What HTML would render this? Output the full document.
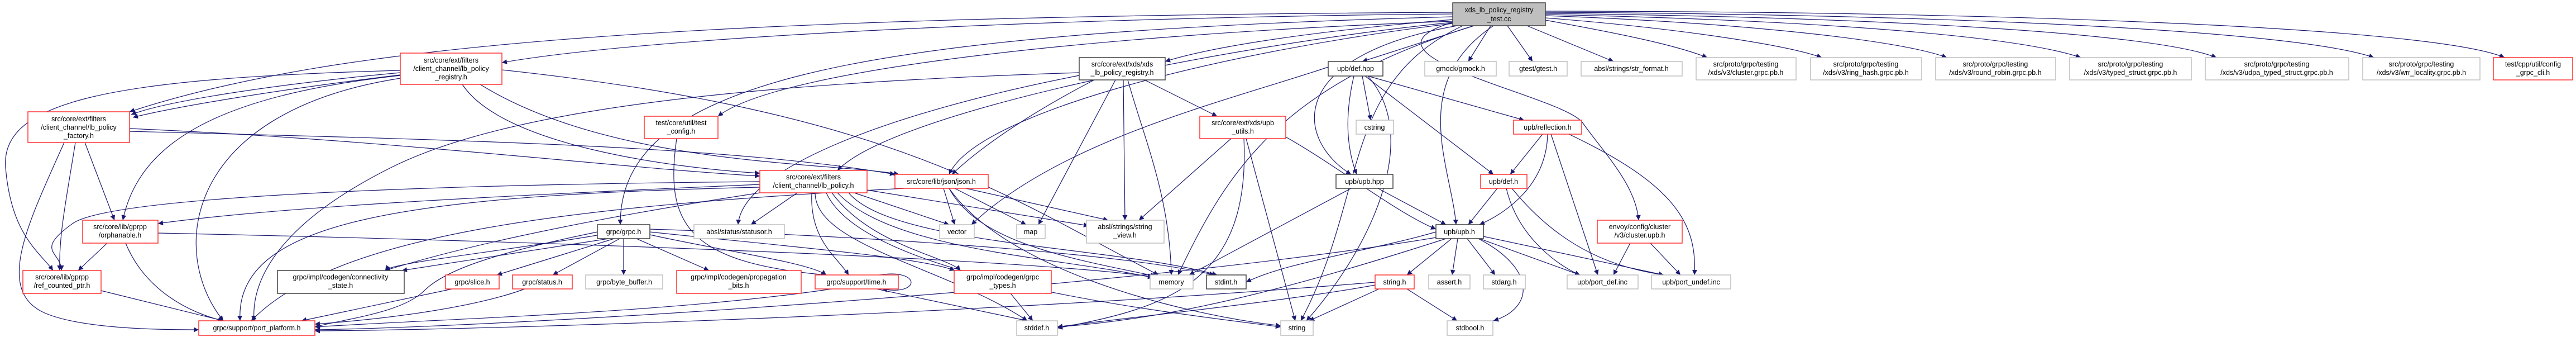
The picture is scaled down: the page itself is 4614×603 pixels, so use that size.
<!DOCTYPE html>
<html><head><meta charset="utf-8"><style>
html,body{margin:0;padding:0;background:#fff;}
svg{display:block;}
text{font-family:"Liberation Sans",sans-serif;font-size:12.5px;fill:#000;}
.e{fill:none;stroke:#191970;stroke-width:1.2;marker-end:url(#a);}
.r{fill:#fff;stroke:#ff3030;stroke-width:1.5;}
.g{fill:#fff;stroke:#bfbfbf;stroke-width:1.5;}
.k{fill:#fff;stroke:#404040;stroke-width:1.5;}
</style></head><body>
<svg width="4614" height="603" viewBox="0 0 4614 603" xmlns="http://www.w3.org/2000/svg">
<defs><marker id="a" viewBox="0 0 10 10" refX="10" refY="5" markerWidth="9" markerHeight="9" markerUnits="userSpaceOnUse" orient="auto"><path d="M0,0 L10,5 L0,10 z" fill="#191970"/></marker></defs>
<g>
<!-- main edges -->
<path class="e" d="M2602 25 C2000 30,1200 60,899 112"/>
<path class="e" d="M2602 22 C1200 30,600 80,232 200"/>
<path class="e" d="M2602 35 C2300 60,2150 90,2087 110"/>
<path class="e" d="M2602 38 C2000 60,1400 120,1286 208"/>
<path class="e" d="M2602 40 C2200 80,1600 200,1500 305"/>
<path class="e" d="M2602 42 C2200 90,1750 200,1700 312"/>
<path class="e" d="M2602 30 C1500 60,1110 150,1111 402"/>
<path class="e" d="M2640 46 C2300 150,2200 300,2110 492"/>
<path class="e" d="M2640 46 L2440 110"/>
<path class="e" d="M2610 46 C2300 100,2320 250,2420 312"/>
<path class="e" d="M2675 46 C2520 150,2600 300,2608 402"/>
<path class="e" d="M2620 46 C2400 150,2450 350,2330 574"/>
<path class="e" d="M2670 46 L2630 110"/>
<path class="e" d="M2700 46 L2745 110"/>
<path class="e" d="M2735 46 L2890 110"/>
<path class="e" d="M2602 40 C2400 100,2800 170,2835 220 S2930 330,2935 394"/>
<path class="e" d="M2768 36 C2900 60,3000 80,3058 103"/>
<path class="e" d="M2768 32 C3000 50,3200 80,3263 103"/>
<path class="e" d="M2768 28 C3100 40,3400 70,3487 103"/>
<path class="e" d="M2768 26 C3200 35,3600 60,3727 103"/>
<path class="e" d="M2768 24 C3300 30,3850 55,3970 103"/>
<path class="e" d="M2768 22 C3400 25,4100 50,4252 103"/>
<path class="e" d="M2768 20 C3500 20,4350 45,4486 103"/>
<!-- registry -->
<path class="e" d="M717 130 C500 150,300 180,235 205"/>
<path class="e" d="M717 134 C500 160,320 190,238 210"/>
<path class="e" d="M717 135 C400 170,250 250,220 394"/>
<path class="e" d="M717 140 C330 200,300 450,400 574"/>
<path class="e" d="M717 126 C200 140,0 180,10 300 S70 450,95 484"/>
<path class="e" d="M828 151 C900 260,1200 300,1361 310"/>
<path class="e" d="M860 151 C1100 300,1500 290,1610 312"/>
<path class="e" d="M899 125 C1600 200,1800 350,2075 492"/>
<!-- factory -->
<path class="e" d="M232 230 C700 250,1100 300,1361 315"/>
<path class="e" d="M232 235 C800 250,1300 260,1603 312"/>
<path class="e" d="M152 255 L205 394"/>
<path class="e" d="M135 255 C120 350,105 420,107 484"/>
<path class="e" d="M115 255 C50 400,-10 520,80 560 C150 590,300 590,356 590"/>
<!-- orph, rcp -->
<path class="e" d="M192 435 L140 484"/>
<path class="e" d="M225 435 C260 520,340 560,400 574"/>
<path class="e" d="M283 417 C900 430,1800 460,2065 495"/>
<path class="e" d="M181 520 L400 574"/>
<!-- lbp -->
<path class="e" d="M1361 330 C900 350,500 370,283 400"/>
<path class="e" d="M1361 325 C800 330,200 350,130 400 S110 450,110 484"/>
<path class="e" d="M1361 335 C700 350,420 400,430 574"/>
<path class="e" d="M1361 345 C1000 400,800 450,690 484"/>
<path class="e" d="M1428 345 L1345 402"/>
<path class="e" d="M1530 345 L1700 402"/>
<path class="e" d="M1553 340 L1950 404"/>
<path class="e" d="M1500 345 C1600 450,1900 460,2065 497"/>
<path class="e" d="M1480 345 C1550 500,2100 560,2294 585"/>
<path class="e" d="M1460 345 C1460 440,1700 480,1840 574"/>
<path class="e" d="M1490 345 C1560 440,1700 460,1720 484"/>
<path class="e" d="M1454 345 C1450 430,1500 460,1520 492"/>
<path class="e" d="M1520 345 C1600 440,2000 440,2180 492"/>
<!-- json -->
<path class="e" d="M1690 337 L1710 402"/>
<path class="e" d="M1710 337 L1838 402"/>
<path class="e" d="M1730 337 L1985 394"/>
<path class="e" d="M1700 337 C1750 430,1900 460,2070 494"/>
<path class="e" d="M1700 337 C1800 480,2100 560,2294 583"/>
<path class="e" d="M1620 337 C1000 370,600 420,450 574"/>
<!-- grpc.h -->
<path class="e" d="M1090 427 L720 484"/>
<path class="e" d="M1075 420 C900 450,700 470,690 484"/>
<path class="e" d="M1100 427 L890 492"/>
<path class="e" d="M1110 427 L990 492"/>
<path class="e" d="M1117 427 L1117 492"/>
<path class="e" d="M1140 427 L1270 484"/>
<path class="e" d="M1164 420 C1300 450,1450 470,1480 492"/>
<path class="e" d="M1164 415 C1400 440,1650 460,1710 484"/>
<path class="e" d="M1164 410 C1500 420,2000 450,2175 492"/>
<path class="e" d="M1070 415 C900 450,800 480,760 520 S620 570,564 585"/>
<path class="e" d="M810 517 L540 574"/>
<path class="e" d="M940 517 C850 550,700 570,564 580"/>
<path class="e" d="M1490 517 C1200 560,800 570,564 585"/>
<path class="e" d="M1575 492 C1650 480,1650 530,1580 517"/>
<path class="e" d="M1570 517 L1840 574"/>
<path class="e" d="M1810 525 L1850 574"/>
<path class="e" d="M1212 248 C1190 400,1230 470,1480 492"/>
<!-- xreg -->
<path class="e" d="M1960 143 C1850 200,1760 260,1705 312"/>
<path class="e" d="M1998 143 L1860 402"/>
<path class="e" d="M2012 143 L2015 394"/>
<path class="e" d="M2020 143 C2050 250,2095 350,2098 492"/>
<path class="e" d="M2050 143 L2180 208"/>
<path class="e" d="M1933 135 C1600 200,1330 300,1322 402"/>
<path class="e" d="M1933 130 C1300 150,900 200,700 300 S450 500,455 574"/>
<!-- upbutils -->
<path class="e" d="M2205 248 L2040 394"/>
<path class="e" d="M2232 248 L2320 574"/>
<path class="e" d="M2228 248 C2240 500,2100 550,1894 587"/>
<path class="e" d="M2303 245 C2400 300,2500 380,2572 410"/>
<!-- defhpp -->
<path class="e" d="M2440 136 L2455 215"/>
<path class="e" d="M2450 136 L2730 215"/>
<path class="e" d="M2425 136 C2410 200,2410 260,2430 312"/>
<path class="e" d="M2445 136 L2675 312"/>
<path class="e" d="M2450 136 C2550 250,2450 450,2340 574"/>
<path class="e" d="M2379 120 C2200 180,1900 250,1740 402"/>
<path class="e" d="M2420 337 L2130 492"/>
<!-- refl, defh, upbhpp -->
<path class="e" d="M2763 240 L2705 312"/>
<path class="e" d="M2772 240 C2770 330,2700 380,2650 402"/>
<path class="e" d="M2778 240 L2862 492"/>
<path class="e" d="M2810 240 C3000 330,3040 400,3035 492"/>
<path class="e" d="M2682 337 L2630 402"/>
<path class="e" d="M2698 337 C2720 430,2800 480,2830 492"/>
<path class="e" d="M2708 337 C2800 450,2900 480,2980 492"/>
<path class="e" d="M2468 337 L2590 402"/>
<!-- upbh -->
<path class="e" d="M2600 427 L2520 492"/>
<path class="e" d="M2611 427 L2601 492"/>
<path class="e" d="M2628 427 L2678 492"/>
<path class="e" d="M2650 427 L2830 492"/>
<path class="e" d="M2657 423 L2980 492"/>
<path class="e" d="M2648 427 C2750 480,2750 550,2675 574"/>
<path class="e" d="M2572 415 C2450 450,2300 470,2232 505"/>
<path class="e" d="M2590 427 C2300 520,2100 570,1894 585"/>
<path class="e" d="M2572 425 C2000 520,900 585,564 590"/>
<!-- string.h -->
<path class="e" d="M2470 517 L2345 574"/>
<path class="e" d="M2520 517 L2610 574"/>
<path class="e" d="M2463 510 C2300 540,2000 570,1894 585"/>
<path class="e" d="M2463 505 C1800 560,900 590,564 592"/>
<!-- clupb -->
<path class="e" d="M2920 435 L2890 492"/>
<path class="e" d="M2956 435 L3010 492"/>
</g>
<g>
<rect x="2602" y="5" width="166" height="41" fill="#bfbfbf" stroke="#404040" stroke-width="1.5"/>
<text x="2685" y="22" text-anchor="middle">xds_lb_policy_registry</text><text x="2685" y="38" text-anchor="middle">_test.cc</text>

<rect class="r" x="717" y="95" width="182" height="56"/>
<text x="808" y="112" text-anchor="middle">src/core/ext/filters</text><text x="808" y="127" text-anchor="middle">/client_channel/lb_policy</text><text x="808" y="142" text-anchor="middle">_registry.h</text>

<rect class="r" x="50" y="200" width="182" height="55"/>
<text x="141" y="217" text-anchor="middle">src/core/ext/filters</text><text x="141" y="232" text-anchor="middle">/client_channel/lb_policy</text><text x="141" y="247" text-anchor="middle">_factory.h</text>

<rect class="r" x="148" y="394" width="135" height="41"/>
<text x="215" y="410" text-anchor="middle">src/core/lib/gprpp</text><text x="215" y="425" text-anchor="middle">/orphanable.h</text>

<rect class="r" x="41" y="484" width="140" height="41"/>
<text x="111" y="500" text-anchor="middle">src/core/lib/gprpp</text><text x="111" y="515" text-anchor="middle">/ref_counted_ptr.h</text>

<rect class="r" x="356" y="574" width="208" height="26"/>
<text x="460" y="591" text-anchor="middle">grpc/support/port_platform.h</text>

<rect class="k" x="497" y="484" width="227" height="41"/>
<text x="610" y="500" text-anchor="middle">grpc/impl/codegen/connectivity</text><text x="610" y="515" text-anchor="middle">_state.h</text>

<rect class="r" x="798" y="492" width="96" height="25"/><text x="846" y="509" text-anchor="middle">grpc/slice.h</text>
<rect class="r" x="918" y="492" width="107" height="25"/><text x="971" y="509" text-anchor="middle">grpc/status.h</text>
<rect class="g" x="1049" y="492" width="138" height="25"/><text x="1118" y="509" text-anchor="middle">grpc/byte_buffer.h</text>
<rect class="k" x="1070" y="402" width="94" height="25"/><text x="1117" y="419" text-anchor="middle">grpc/grpc.h</text>

<rect class="r" x="1154" y="208" width="132" height="40"/>
<text x="1220" y="224" text-anchor="middle">test/core/util/test</text><text x="1220" y="239" text-anchor="middle">_config.h</text>

<rect class="k" x="1933" y="103" width="154" height="40"/>
<text x="2010" y="119" text-anchor="middle">src/core/ext/xds/xds</text><text x="2010" y="134" text-anchor="middle">_lb_policy_registry.h</text>

<rect class="r" x="2149" y="208" width="154" height="40"/>
<text x="2226" y="224" text-anchor="middle">src/core/ext/xds/upb</text><text x="2226" y="239" text-anchor="middle">_utils.h</text>

<rect class="r" x="1361" y="305" width="192" height="40"/>
<text x="1457" y="321" text-anchor="middle">src/core/ext/filters</text><text x="1457" y="336" text-anchor="middle">/client_channel/lb_policy.h</text>

<rect class="r" x="1603" y="312" width="167" height="25"/><text x="1686" y="329" text-anchor="middle">src/core/lib/json/json.h</text>
<rect class="g" x="1243" y="402" width="162" height="25"/><text x="1324" y="419" text-anchor="middle">absl/status/statusor.h</text>
<rect class="g" x="1683" y="402" width="62" height="25"/><text x="1714" y="419" text-anchor="middle">vector</text>
<rect class="g" x="1821" y="402" width="51" height="25"/><text x="1846" y="419" text-anchor="middle">map</text>
<rect class="g" x="1946" y="394" width="139" height="41"/>
<text x="2015" y="410" text-anchor="middle">absl/strings/string</text><text x="2015" y="425" text-anchor="middle">_view.h</text>

<rect class="r" x="1212" y="484" width="223" height="41"/>
<text x="1323" y="500" text-anchor="middle">grpc/impl/codegen/propagation</text><text x="1323" y="515" text-anchor="middle">_bits.h</text>
<rect class="r" x="1460" y="492" width="149" height="25"/><text x="1534" y="509" text-anchor="middle">grpc/support/time.h</text>
<rect class="r" x="1709" y="484" width="174" height="41"/>
<text x="1796" y="500" text-anchor="middle">grpc/impl/codegen/grpc</text><text x="1796" y="515" text-anchor="middle">_types.h</text>
<rect class="g" x="2060" y="492" width="77" height="25"/><text x="2098" y="509" text-anchor="middle">memory</text>
<rect class="k" x="2161" y="492" width="71" height="25"/><text x="2196" y="509" text-anchor="middle">stdint.h</text>
<rect class="g" x="1821" y="574" width="73" height="26"/><text x="1857" y="591" text-anchor="middle">stddef.h</text>
<rect class="g" x="2294" y="574" width="58" height="26"/><text x="2323" y="591" text-anchor="middle">string</text>

<rect class="k" x="2379" y="110" width="98" height="26"/><text x="2428" y="127" text-anchor="middle">upb/def.hpp</text>
<rect class="g" x="2552" y="110" width="128" height="26"/><text x="2616" y="127" text-anchor="middle">gmock/gmock.h</text>
<rect class="g" x="2703" y="110" width="104" height="26"/><text x="2755" y="127" text-anchor="middle">gtest/gtest.h</text>
<rect class="g" x="2832" y="110" width="181" height="26"/><text x="2922" y="127" text-anchor="middle">absl/strings/str_format.h</text>

<rect class="g" x="3038" y="103" width="179" height="40"/><text x="3127" y="119" text-anchor="middle">src/proto/grpc/testing</text><text x="3127" y="134" text-anchor="middle">/xds/v3/cluster.grpc.pb.h</text>
<rect class="g" x="3243" y="103" width="199" height="40"/><text x="3342" y="119" text-anchor="middle">src/proto/grpc/testing</text><text x="3342" y="134" text-anchor="middle">/xds/v3/ring_hash.grpc.pb.h</text>
<rect class="g" x="3467" y="103" width="215" height="40"/><text x="3574" y="119" text-anchor="middle">src/proto/grpc/testing</text><text x="3574" y="134" text-anchor="middle">/xds/v3/round_robin.grpc.pb.h</text>
<rect class="g" x="3707" y="103" width="218" height="40"/><text x="3816" y="119" text-anchor="middle">src/proto/grpc/testing</text><text x="3816" y="134" text-anchor="middle">/xds/v3/typed_struct.grpc.pb.h</text>
<rect class="g" x="3950" y="103" width="257" height="40"/><text x="4078" y="119" text-anchor="middle">src/proto/grpc/testing</text><text x="4078" y="134" text-anchor="middle">/xds/v3/udpa_typed_struct.grpc.pb.h</text>
<rect class="g" x="4232" y="103" width="210" height="40"/><text x="4337" y="119" text-anchor="middle">src/proto/grpc/testing</text><text x="4337" y="134" text-anchor="middle">/xds/v3/wrr_locality.grpc.pb.h</text>
<rect class="r" x="4466" y="103" width="142" height="40"/><text x="4537" y="119" text-anchor="middle">test/cpp/util/config</text><text x="4537" y="134" text-anchor="middle">_grpc_cli.h</text>

<rect class="g" x="2429" y="215" width="67" height="25"/><text x="2462" y="232" text-anchor="middle">cstring</text>
<rect class="r" x="2711" y="215" width="122" height="25"/><text x="2772" y="232" text-anchor="middle">upb/reflection.h</text>
<rect class="k" x="2393" y="312" width="102" height="25"/><text x="2444" y="329" text-anchor="middle">upb/upb.hpp</text>
<rect class="r" x="2652" y="312" width="83" height="25"/><text x="2693" y="329" text-anchor="middle">upb/def.h</text>
<rect class="k" x="2572" y="402" width="85" height="25"/><text x="2614" y="419" text-anchor="middle">upb/upb.h</text>
<rect class="r" x="2861" y="394" width="152" height="41"/><text x="2937" y="410" text-anchor="middle">envoy/config/cluster</text><text x="2937" y="425" text-anchor="middle">/v3/cluster.upb.h</text>
<rect class="r" x="2463" y="492" width="70" height="25"/><text x="2498" y="509" text-anchor="middle">string.h</text>
<rect class="g" x="2559" y="492" width="74" height="25"/><text x="2596" y="509" text-anchor="middle">assert.h</text>
<rect class="g" x="2657" y="492" width="75" height="25"/><text x="2694" y="509" text-anchor="middle">stdarg.h</text>
<rect class="g" x="2807" y="492" width="127" height="25"/><text x="2870" y="509" text-anchor="middle">upb/port_def.inc</text>
<rect class="g" x="2958" y="492" width="142" height="25"/><text x="3029" y="509" text-anchor="middle">upb/port_undef.inc</text>
<rect class="g" x="2592" y="574" width="82" height="26"/><text x="2633" y="591" text-anchor="middle">stdbool.h</text>
</g>
</svg>
</body></html>
